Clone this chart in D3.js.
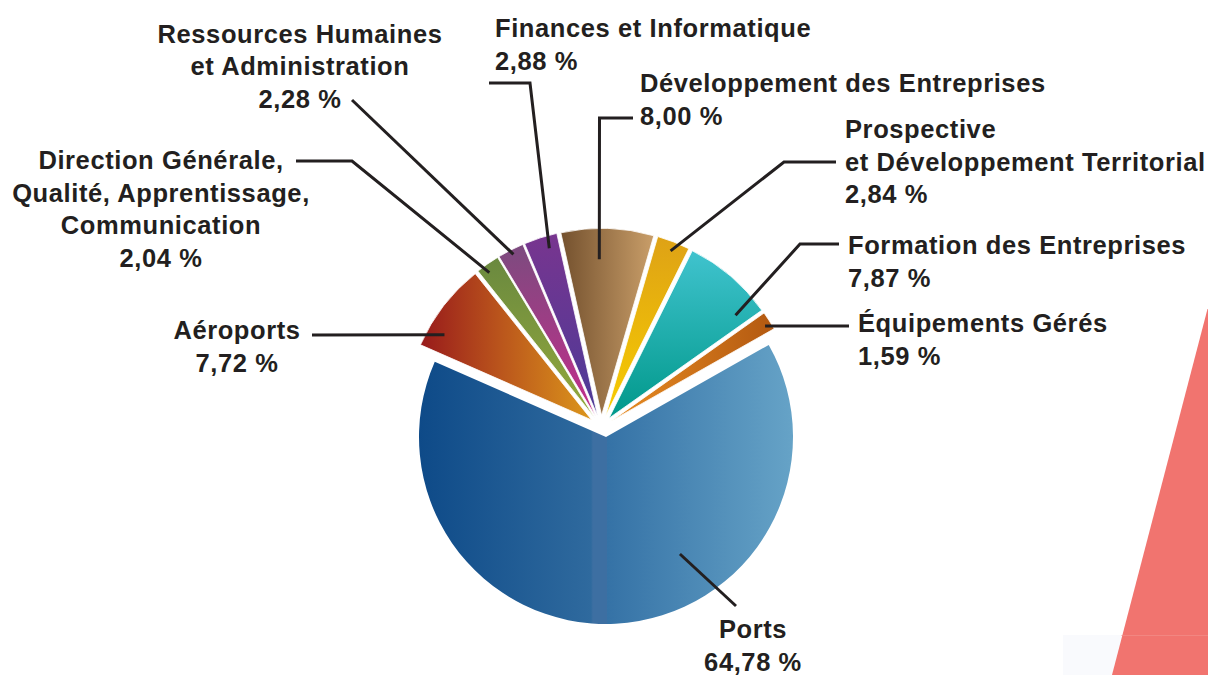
<!DOCTYPE html>
<html>
<head>
<meta charset="utf-8">
<script src="https://cdn.jsdelivr.net/npm/d3@7/dist/d3.min.js"></script>
<style>
  html, body { margin: 0; padding: 0; background: #ffffff; }
  svg { display: block; }
  text { font-family: "Liberation Sans", Arial, Helvetica, sans-serif; font-weight: bold; fill: #231f20; }
</style>
</head>
<body>
<script>
// ---------- DATA ----------
const categories = [
  "Aéroports",
  "Direction Générale,\nQualité, Apprentissage,\nCommunication",
  "Ressources Humaines\net Administration",
  "Finances et Informatique",
  "Développement des Entreprises",
  "Prospective\net Développement Territorial",
  "Formation des Entreprises",
  "Équipements Gérés",
  "Ports"
];
const shares = [7.72, 2.04, 2.28, 2.88, 8.00, 2.84, 7.87, 1.59, 64.78];

// ---------- STYLE / LAYOUT ----------
const W = 1208, H = 675;
const center = [606, 437];
const R = 187;
const startDeg = -66.3;
const groupShift = [-4.8, -9.7];   // shift of the exploded group
const explode = 12;                // radial explode of small slices
const explodedFlags = [1, 1, 1, 1, 1, 1, 1, 1, 0];

const gradients = [
  { dir: "h", stops: [[0, "#981a1b"], [0.45, "#b9531c"], [1, "#dc961b"]] },
  { dir: "v", stops: [[0, "#6a893f"], [1, "#94a93c"]] },
  { dir: "v", stops: [[0, "#7c4b7f"], [1, "#c42d8b"]] },
  { dir: "v", stops: [[0, "#78358f"], [1, "#4c3a98"]] },
  { dir: "h", stops: [[0, "#74512e"], [1, "#c99e69"]] },
  { dir: "v", stops: [[0, "#dea216"], [1, "#f7cc00"]] },
  { dir: "v", stops: [[0, "#40c3ce"], [1, "#00988a"]] },
  { dir: "h", stops: [[0, "#e88c22"], [1, "#b35911"]] },
  { dir: "h", stops: [[0, "#0e4a88"], [0.46, "#2f6a9e"], [0.465, "#3d6fa2"], [0.503, "#3d6fa2"], [0.503, "#3572a6"], [1, "#66a3c7"]] }
];

// label layout: text anchor point, elbow points (from text side), inner point (fraction of slice angle, fraction of radius)
const labelLayout = [
  { x: 237, y: 339, anchor: "middle", elbow: [[312, 335]], f: 0.23, rr: 0.91 },
  { x: 161, y: 169, anchor: "middle", elbow: [[296, 161], [352, 161]], f: 0.35, rr: 0.957 },
  { x: 300, y: 42.7, anchor: "middle", elbow: [[352, 100]], f: 0.52, rr: 0.973 },
  { x: 495, y: 37, anchor: "start", elbow: [[489, 83], [530, 83]], f: 0.666, rr: 0.933 },
  { x: 640, y: 92, anchor: "start", elbow: [[633, 118], [599.5, 118]], f: 0.408, rr: 0.834 },
  { x: 845, y: 138, anchor: "start", elbow: [[836, 162], [784, 162]], f: 0.515, rr: 0.95 },
  { x: 848, y: 254, anchor: "start", elbow: [[839, 244], [800, 244]], f: 0.863, rr: 0.872 },
  { x: 858, y: 332, anchor: "start", elbow: [[849, 326]], f: 0.62, rr: 0.966 },
  { x: 753, y: 638, anchor: "middle", elbow: [[736, 606]], f: 0.374, rr: 0.74 }
];
const lineHeight = 32.5;
const fontSize = 25.5;

const fmt = v => d3.format(".2f")(v).replace(".", ",") + " %";

// ---------- DRAW ----------
const svg = d3.select("body").append("svg").attr("width", W).attr("height", H);
const defs = svg.append("defs");

// decorative background shapes
svg.append("rect").attr("x", 1063).attr("y", 635).attr("width", W - 1063).attr("height", H - 635).attr("fill", "#f9fafd");
svg.append("path").attr("d", "M1208,309 L1207.5,309 L1112,675 L1208,675 Z").attr("fill", "#f1746f");
svg.append("line").attr("x1", 1121.5).attr("x2", 1208).attr("y1", 635.5).attr("y2", 635.5).attr("stroke", "#f38a86").attr("stroke-width", 0.8);

gradients.forEach((g, i) => {
  const lg = defs.append("linearGradient").attr("id", "g" + i)
    .attr("x1", 0).attr("y1", 0)
    .attr("x2", g.dir === "h" ? 1 : 0).attr("y2", g.dir === "h" ? 0 : 1);
  g.stops.forEach(s => lg.append("stop").attr("offset", s[0]).attr("stop-color", s[1]));
});

const rad = d => d * Math.PI / 180;
const pie = d3.pie().sort(null).value(d => d)
  .startAngle(rad(startDeg)).endAngle(rad(startDeg + 360));
const arcs = pie(shares);
const arc = d3.arc().innerRadius(0).outerRadius(R);

function offsetOf(d, i) {
  if (!explodedFlags[i]) return [0, 0];
  const m = (d.startAngle + d.endAngle) / 2;
  return [groupShift[0] + explode * Math.sin(m), groupShift[1] - explode * Math.cos(m)];
}

const g = svg.append("g").attr("transform", `translate(${center[0]},${center[1]})`);
g.selectAll("path.slice").data(arcs).join("path")
  .attr("class", "slice")
  .attr("d", arc)
  .attr("transform", (d, i) => { const o = offsetOf(d, i); return `translate(${o[0]},${o[1]})`; })
  .attr("fill", (d, i) => `url(#g${i})`)
  .attr("stroke", "#ffffff")
  .attr("stroke-width", (d, i) => explodedFlags[i] ? 0.8 : 0)
  .attr("stroke-linejoin", "miter");

// leader lines
const line = d3.line();
arcs.forEach((d, i) => {
  const L = labelLayout[i];
  const o = offsetOf(d, i);
  const a = d.startAngle + L.f * (d.endAngle - d.startAngle);
  const inner = [center[0] + o[0] + L.rr * R * Math.sin(a), center[1] + o[1] - L.rr * R * Math.cos(a)];
  const pts = L.elbow.concat([inner]);
  svg.append("path").attr("d", line(pts))
    .attr("fill", "none").attr("stroke", "#231f20").attr("stroke-width", 3)
    .attr("stroke-linejoin", "miter");
});

// labels
arcs.forEach((d, i) => {
  const L = labelLayout[i];
  const lines = categories[i].split("\n").concat([fmt(shares[i])]);
  const t = svg.append("text")
    .attr("x", L.x).attr("y", L.y)
    .attr("text-anchor", L.anchor)
    .attr("font-size", fontSize)
    .attr("letter-spacing", 0.6);
  lines.forEach((s, j) => {
    t.append("tspan").attr("x", L.x).attr("y", L.y + j * lineHeight).text(s);
  });
});
</script>
</body>
</html>
